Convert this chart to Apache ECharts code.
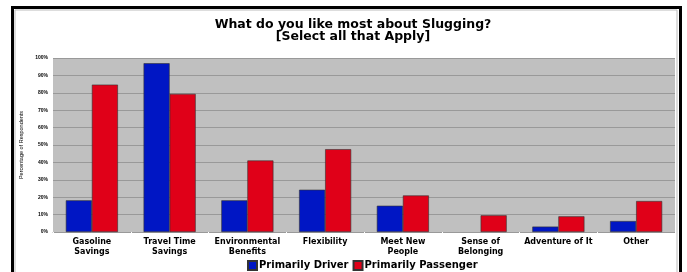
<!DOCTYPE html>
<html><head><meta charset="utf-8">
<script src="https://cdn.jsdelivr.net/npm/echarts@6/dist/echarts.min.js"></script>
<style>html,body{margin:0;padding:0;background:#fff}#c{width:687px;height:272px}</style>
</head><body><div id="c"></div>
<script>
const categories = ["Gasoline\nSavings","Travel Time\nSavings","Environmental\nBenefits","Flexibility","Meet New\nPeople","Sense of\nBelonging","Adventure of It","Other"];
const driver = [18.2, 97, 18.2, 24.3, 15.1, 0, 3.1, 6.3];
const passenger = [84.7, 79.4, 41.1, 47.6, 21, 9.6, 9, 17.8];
const seriesNames = ["Primarily Driver","Primarily Passenger"];
const titleText = "What do you like most about Slugging?\n[Select all that Apply]";
const yAxisName = "Percentage of Respondents";

const chart = echarts.init(document.getElementById('c'));
const toItems = arr => arr.map(v => v === 0 ? {value:v,itemStyle:{borderWidth:0}} : v);
chart.setOption({
  animation:false,
  backgroundColor:'#fff',
  title:{text:titleText,left:348,textAlign:'center',top:14,
    textStyle:{fontFamily:'DejaVu Sans',fontWeight:'bold',fontSize:12.5,color:'#000',lineHeight:12}},
  graphic:[
    {type:'rect',shape:{x:12.5,y:7.5,width:668,height:280},style:{fill:'none',stroke:'#000',lineWidth:3},silent:true},
    {type:'rect',shape:{x:15,y:10,width:662,height:280},style:{fill:'none',stroke:'#bbb',lineWidth:1},silent:true}
  ],
  legend:{data:seriesNames,top:260,left:247,itemWidth:9,itemHeight:9,itemGap:4,
    icon:'rect',padding:[0,0,0,0],
    textStyle:{fontFamily:'DejaVu Sans',fontWeight:'bold',fontSize:10,color:'#000',padding:[0,0,0,-3]}},
  grid:{left:53,right:12,top:58,bottom:40,show:true,backgroundColor:'#c0c0c0',borderWidth:0},
  xAxis:{type:'category',data:categories,
    axisLine:{show:true,lineStyle:{color:'#999'}},
    axisTick:{show:true,length:3,lineStyle:{color:'#fff'}},
    axisLabel:{interval:0,fontFamily:'DejaVu Sans',fontWeight:'bold',fontSize:8,color:'#000',lineHeight:10,margin:5}},
  yAxis:{type:'value',min:0,max:100,interval:10,
    name:yAxisName,nameLocation:'middle',nameRotate:90,nameGap:29,
    nameTextStyle:{fontFamily:'Liberation Sans',fontSize:5.5,color:'#000'},
    axisLabel:{formatter:'{value}%',fontFamily:'Liberation Sans',fontWeight:'bold',fontSize:5,color:'#000',margin:5},
    axisLine:{show:false},axisTick:{show:false},
    splitLine:{lineStyle:{color:'#999',width:1}}},
  series:[
    {name:seriesNames[0],type:'bar',data:toItems(driver),barGap:'0%',barCategoryGap:'33%',
      itemStyle:{color:'#0016c4',borderColor:'#333',borderWidth:0.6}},
    {name:seriesNames[1],type:'bar',data:toItems(passenger),
      itemStyle:{color:'#e00018',borderColor:'#333',borderWidth:0.6}}
  ]
});
</script></body></html>
